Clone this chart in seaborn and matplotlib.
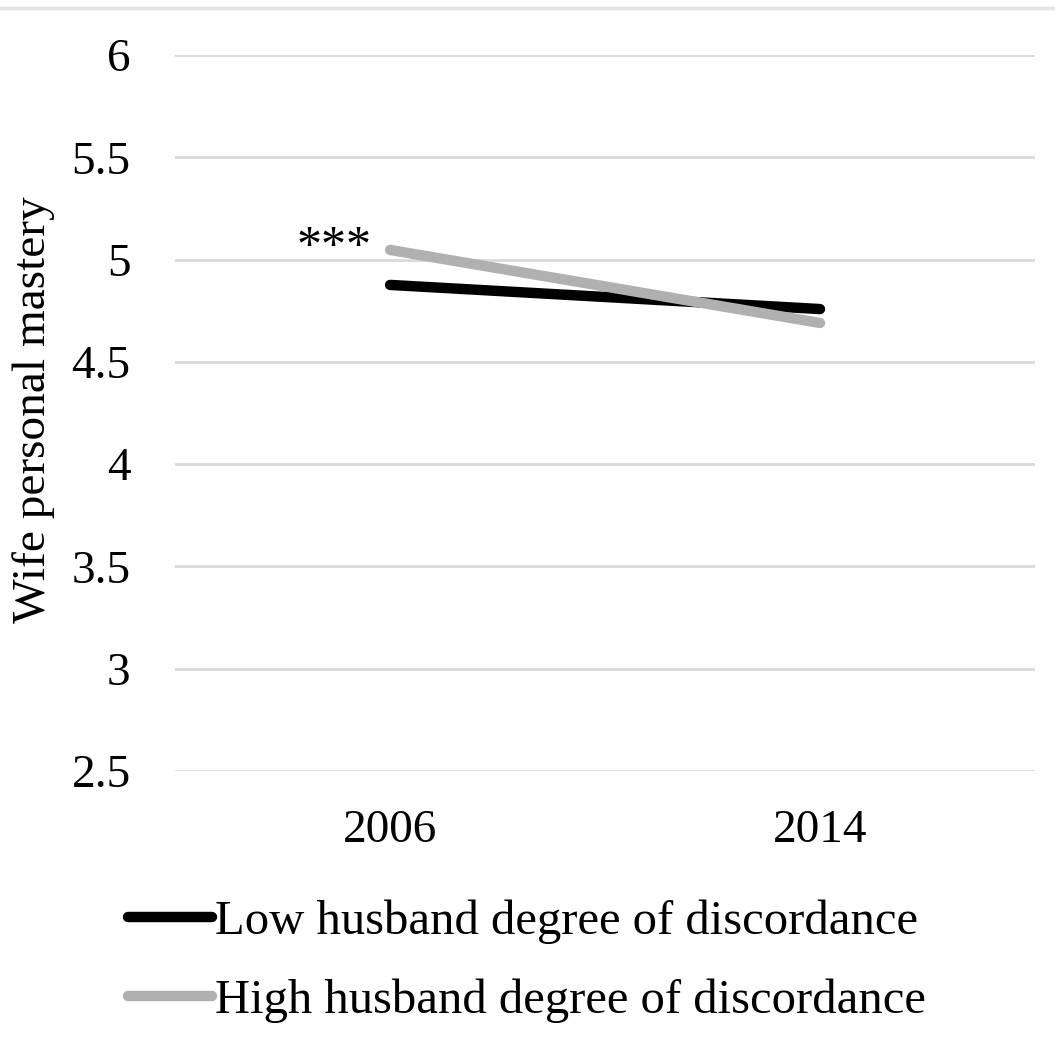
import pandas as pd
import numpy as np
import matplotlib.pyplot as plt
import seaborn as sns

# values
years = ["2006", "2014"]
low_vals = [4.876, 4.758]
high_vals = [5.047, 4.690]
series_names = ["Low husband degree of discordance", "High husband degree of discordance"]
y_ticks = [2.5, 3, 3.5, 4, 4.5, 5, 5.5, 6]

df = pd.DataFrame({
    "Year": years * 2,
    "Mastery": low_vals + high_vals,
    "Group": [series_names[0]] * 2 + [series_names[1]] * 2,
})

sns.set_style("white")
plt.rcParams["font.family"] = ["Liberation Serif", "DejaVu Serif"]
plt.rcParams["text.color"] = "black"
plt.rcParams["axes.labelcolor"] = "black"

fig = plt.figure(figsize=(10.55, 10.51), dpi=100)
ax = fig.add_axes([0.166, 0.2664, 0.815, 0.6813])

sns.lineplot(data=df, x="Year", y="Mastery", hue="Group",
             palette=["black", "#b0b0b0"], linewidth=7.5,
             solid_capstyle="round", ax=ax, legend=False, zorder=3)

ax.set_xlim(-0.5, 1.5)
ax.set_ylim(2.5, 6)
ax.set_yticks(y_ticks)
ax.set_yticklabels([f"{t:g}" for t in y_ticks])
ax.yaxis.grid(True, color="#d9d9d9", linewidth=2)
ax.set_axisbelow(True)
for s in ax.spines.values():
    s.set_visible(False)
ax.tick_params(axis="both", length=0, labelsize=34, colors="black")
ax.tick_params(axis="y", pad=32)
ax.tick_params(axis="x", pad=28)
ax.set_xlabel("")
ax.set_ylabel("Wife personal mastery", fontsize=34)
ax.yaxis.set_label_coords(-0.14, 0.504)

# significance marker
ax.text(-0.13, 5.06, "***", fontsize=36, ha="center", va="center")

# top border line of the figure
fig.add_artist(plt.Line2D([0, 1], [0.9925, 0.9925], color="#e3e3e3", linewidth=2.5))

handles = [plt.Line2D([], [], color=c, linewidth=7.5, solid_capstyle="round")
           for c in ["black", "#b0b0b0"]]
fig.legend(handles, series_names, loc="lower left", bbox_to_anchor=(0.08, -0.015),
           frameon=False, fontsize=35, handlelength=1.73, handletextpad=0.05,
           labelspacing=0.7)

fig.savefig("out.png", dpi=100)
